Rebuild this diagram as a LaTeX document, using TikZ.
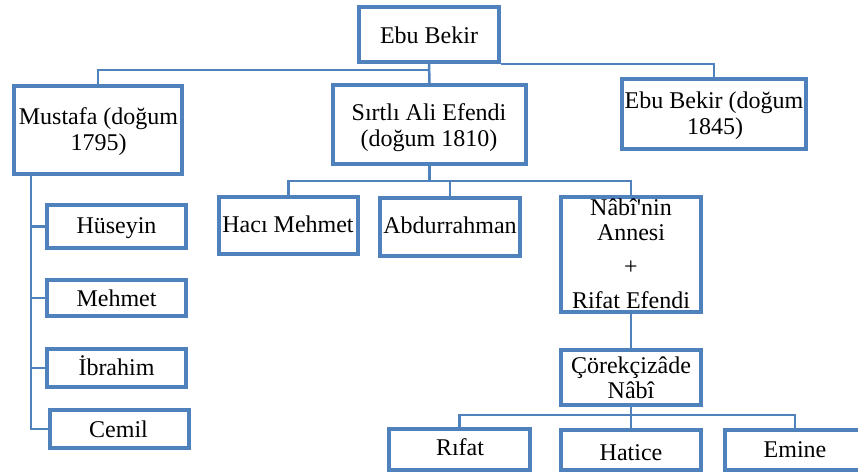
\documentclass[tikz,border=0pt]{standalone}
\usepackage{fontspec}
\setmainfont{Liberation Serif}[Ligatures=TeXOff]
\definecolor{boxblue}{RGB}{79,129,189}
\tikzset{
  box/.style={draw=boxblue, line width=4pt, fill=white, rectangle, inner sep=0pt},
  conn/.style={draw=boxblue, line width=2.5pt},
  lbl/.style={anchor=base, inner sep=0pt, font=\fontsize{24}{27}\selectfont, text=black}
}
\newcommand{\mybox}[5]{\node[box, minimum width=#4, minimum height=#5] (#1) at (#2,#3) {};}
\newcommand{\mytxt}[4]{\node[lbl] (#1) at (#2,#3) {#4};}
\begin{document}
\begin{tikzpicture}[x=1pt,y=-1pt]
\useasboundingbox (0,0) rectangle (858,474);
\coordinate (j1) at (429,70);
\coordinate (mv) at (31,176);
\coordinate (j2) at (429.5,181);
\coordinate (j3) at (631,415);
% boxes (path sizes = outer - line width)
\mybox{eb}{429}{34.5}{140pt}{55pt}
\mybox{mus}{98}{130}{168pt}{88pt}
\mybox{sir}{429.5}{124.5}{193pt}{79pt}
\mybox{ebb}{714}{114}{184pt}{70pt}
\mybox{hus}{116.5}{226.5}{139pt}{43pt}
\mybox{meh}{116.5}{298}{139pt}{36pt}
\mybox{ibr}{116.5}{368}{139pt}{38pt}
\mybox{cem}{119.5}{429}{139pt}{38pt}
\mybox{hac}{288.5}{225.5}{139pt}{57pt}
\mybox{abd}{450}{227}{140pt}{58pt}
\mybox{nab}{631}{254.5}{140pt}{115pt}
\mybox{cor}{631}{377.5}{140pt}{55pt}
\mybox{rif}{459.5}{449.5}{141pt}{41pt}
\mybox{hat}{631}{450}{140pt}{40pt}
\mybox{emi}{795}{450}{140pt}{40pt}
% connectors
\draw[conn] (eb.south) -- (sir.north);
\draw[conn] (j1) -| (mus.north);
\draw[conn] (eb.south east) -| (ebb.north);
\draw[conn] (mus.south -| mv) |- (cem.west);
\draw[conn] (mv |- hus.west) -- (hus.west);
\draw[conn] (mv |- meh.west) -- (meh.west);
\draw[conn] (mv |- ibr.west) -- (ibr.west);
\draw[conn] (sir.south) -- (j2);
\draw[conn] (j2) -| (hac.north);
\draw[conn] (j2) -| (nab.north);
\draw[conn] (j2 -| abd.north) -- (abd.north);
\draw[conn] (nab.south) -- (cor.north);
\draw[conn] (cor.south) -- (j3);
\draw[conn] (j3) -| (rif.north);
\draw[conn] (j3) -| (emi.north);
\draw[conn] (j3) -- (hat.north);
% texts
\mytxt{ebt}{429}{43}{Ebu Bekir}
\mytxt{must1}{98.5}{124}{Mustafa (doğum}
\mytxt{must2}{98.5}{150}{1795)}
\mytxt{sirt1}{429}{120}{Sırtlı Ali Efendi}
\mytxt{sirt2}{429}{146}{(doğum 1810)}
\mytxt{ebbt1}{714}{108}{Ebu Bekir (doğum}
\mytxt{ebbt2}{715}{134}{1845)}
\mytxt{hust}{116.5}{233}{Hüseyin}
\mytxt{meht}{116.5}{306}{Mehmet}
\mytxt{ibrt}{116.5}{375}{İbrahim}
\mytxt{cemt}{118.5}{437}{Cemil}
\mytxt{hact}{288}{232}{Hacı Mehmet}
\mytxt{abdt}{450}{233}{Abdurrahman}
\mytxt{nabt1}{631}{215}{Nâbî'nin}
\mytxt{nabt2}{631}{240}{Annesi}
\mytxt{nabt3}{631}{274}{+}
\mytxt{nabt4}{631}{308}{Rifat Efendi}
\mytxt{cort1}{631}{373}{Çörekçizâde}
\mytxt{cort2}{631}{398}{Nâbî}
\mytxt{rift}{460}{455}{Rıfat}
\mytxt{hatt}{631}{460}{Hatice}
\mytxt{emit}{795}{457}{Emine}
\end{tikzpicture}
\end{document}
